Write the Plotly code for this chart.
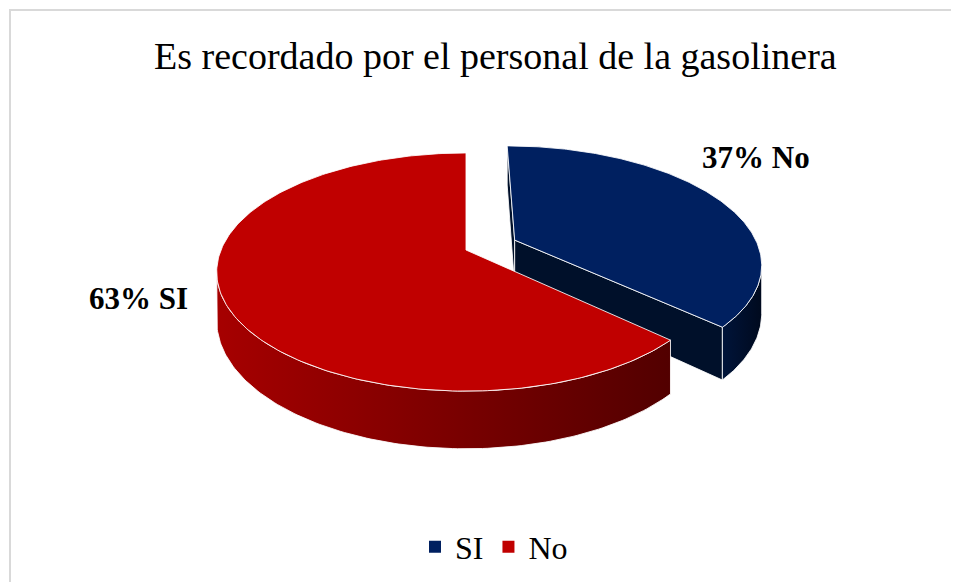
import numpy as np
import plotly.graph_objects as go

# ---------------- data ----------------
categories = ["SI", "No"]
values = [37, 63]
label_texts = ["37% No", "63% SI"]
title_text = "Es recordado por el personal de la gasolinera"

top_colors = ["#002060", "#C00000"]
side_scales = [
    [[0, "#00143A"], [1, "#000A1E"]],
    [[0, "#A60000"], [1, "#520000"]],
]
face_colors = ["#00102A", "#6A0000"]

# ---------------- geometry (page-pixel space) ----------------
W, HGT = 959, 582
OFF = 8                    # page body margin
CX, CY = 466, 250          # projected pie centre
A, B = 245, 115            # horizontal / vertical radius factors
K = 0.185                  # perspective strength
DEPTH = 47                 # pie thickness
PULL = [0.22, 0.0]         # explode per slice (fraction of radius)
N = 240

def proj(X, Y, Z):
    X = np.asarray(X, float); Y = np.asarray(Y, float); Z = np.asarray(Z, float)
    w = 1 - K * Y
    return CX + A * X / w, CY + (B * Y + DEPTH * Z) / w

edge = dict(color="rgba(255,255,255,0.85)", width=1)
traces = []
total = float(sum(values))
start = 0.0
for i, v in enumerate(values):
    span = 2 * np.pi * v / total
    t0, t1 = start, start + span
    start = t1
    tm = (t0 + t1) / 2
    dx, dy = PULL[i] * np.sin(tm), -PULL[i] * np.cos(tm)
    th = np.linspace(t0, t1, N)
    RX, RY = dx + np.sin(th), dy - np.cos(th)

    # radial faces
    cam = np.array([0.0, 1.0 / K])
    for tt, sgn in ((t0, -1), (t1, 1)):
        normal = sgn * np.array([np.cos(tt), np.sin(tt)])
        mid = np.array([dx + 0.5 * np.sin(tt), dy - 0.5 * np.cos(tt)])
        if np.dot(normal, cam - mid) > 1e-3:
            fx = [dx, dx + np.sin(tt), dx + np.sin(tt), dx, dx]
            fy = [dy, dy - np.cos(tt), dy - np.cos(tt), dy, dy]
            fz = [0, 0, 1, 1, 0]
            px, py = proj(fx, fy, fz)
            traces.append(go.Scatter(x=px, y=py, mode="lines", fill="toself",
                                     fillcolor=face_colors[i], line=edge,
                                     hoverinfo="skip", showlegend=False))

    # outer side (visible part only)
    sx, _ = proj(RX, RY, np.zeros_like(RX))
    vis = np.diff(sx) < 0
    idx = np.where(vis)[0]
    if idx.size:
        runs = np.split(idx, np.where(np.diff(idx) > 1)[0] + 1)
        for r in runs:
            a0, a1 = r[0], r[-1] + 1
            tx, ty = proj(RX[a0:a1 + 1], RY[a0:a1 + 1], np.zeros(a1 - a0 + 1))
            bx, by = proj(RX[a0:a1 + 1], RY[a0:a1 + 1], np.ones(a1 - a0 + 1))
            px = np.concatenate([tx, bx[::-1], tx[:1]])
            py = np.concatenate([ty, by[::-1], ty[:1]])
            traces.append(go.Scatter(x=px, y=py, mode="lines", fill="toself",
                                     fillgradient=dict(type="horizontal",
                                                       colorscale=side_scales[i]),
                                     line=edge, hoverinfo="skip", showlegend=False))

    # top face
    px, py = proj(np.concatenate([[dx], RX, [dx]]),
                  np.concatenate([[dy], RY, [dy]]),
                  np.zeros(N + 2))
    traces.append(go.Scatter(x=px, y=py, mode="lines", fill="toself",
                             fillcolor=top_colors[i], line=edge,
                             hoverinfo="skip", showlegend=False))

# legend entries
for name, col in zip(categories, top_colors):
    traces.append(go.Scatter(x=[None], y=[None], mode="markers", name=name,
                             marker=dict(symbol="square", size=12, color=col),
                             hoverinfo="skip"))

fig = go.Figure(traces)

label_pos = [(756, 157), (138, 298)]
annotations = [dict(x=x, y=y, text="<b>%s</b>" % t, showarrow=False,
                    xref="x", yref="y", xanchor="center", yanchor="middle",
                    font=dict(family="Liberation Serif", size=31, color="#000000"))
               for t, (x, y) in zip(label_texts, label_pos)]
annotations.append(dict(x=495, y=56, text=title_text, showarrow=False,
                        xref="x", yref="y", xanchor="center", yanchor="middle",
                        font=dict(family="Liberation Serif", size=38, color="#000000")))

fig.update_layout(
    width=W, height=HGT, autosize=False,
    margin=dict(l=0, r=0, t=0, b=0),
    paper_bgcolor="white", plot_bgcolor="white",
    xaxis=dict(range=[OFF, W + OFF], visible=False, fixedrange=True),
    yaxis=dict(range=[HGT + OFF, OFF], visible=False, fixedrange=True),
    showlegend=True,
    legend=dict(orientation="h", x=(494 - OFF) / W, xanchor="center",
                y=1 - (547 - OFF) / HGT,
                yanchor="middle", font=dict(family="Liberation Serif", size=32,
                                            color="#000000"),
                itemwidth=30, bgcolor="rgba(0,0,0,0)"),
    annotations=annotations,
    shapes=[dict(type="rect", xref="x", yref="y", x0=10, y0=10, x1=990, y1=640,
                 line=dict(color="#D9D9D9", width=2), fillcolor="rgba(0,0,0,0)",
                 layer="below")],
)

fig.write_html("out.html")
